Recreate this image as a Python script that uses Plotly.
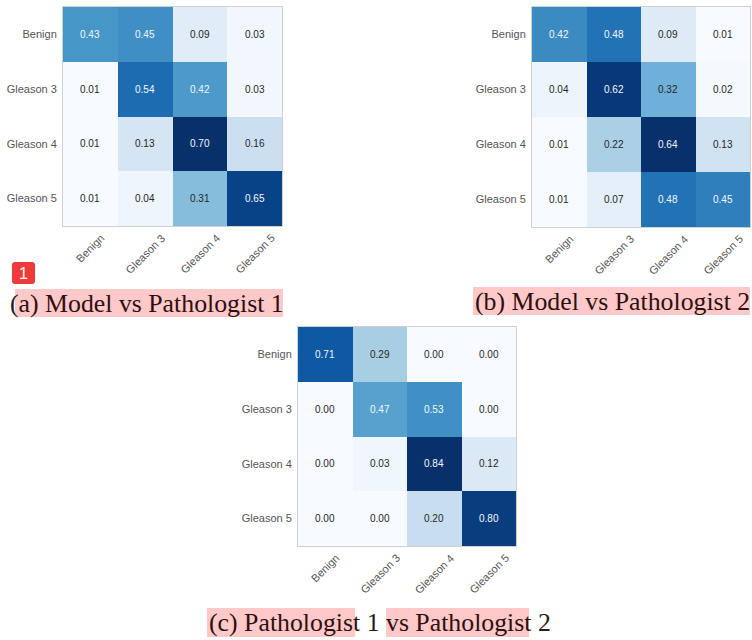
import plotly.graph_objects as go
from plotly.colors import sequential

# ---------------- data ----------------
class_labels = ["Benign", "Gleason 3", "Gleason 4", "Gleason 5"]

model_vs_p1 = [
    [0.43, 0.45, 0.09, 0.03],
    [0.01, 0.54, 0.42, 0.03],
    [0.01, 0.13, 0.70, 0.16],
    [0.01, 0.04, 0.31, 0.65],
]
model_vs_p2 = [
    [0.42, 0.48, 0.09, 0.01],
    [0.04, 0.62, 0.32, 0.02],
    [0.01, 0.22, 0.64, 0.13],
    [0.01, 0.07, 0.48, 0.45],
]
p1_vs_p2 = [
    [0.71, 0.29, 0.00, 0.00],
    [0.00, 0.47, 0.53, 0.00],
    [0.00, 0.03, 0.84, 0.12],
    [0.00, 0.00, 0.20, 0.80],
]

# ---------------- layout helpers ----------------
W, H = 752, 640
def fx(px):
    return px / W
def fy(py):
    return 1 - py / H

# plot-area boxes in pixels (left, right, top, bottom)
panels = [
    (model_vs_p1, (63, 282, 7, 226)),
    (model_vs_p2, (532, 750, 7, 227)),
    (p1_vs_p2, (298, 516, 327, 546)),
]

fig = go.Figure()
annotations = []
layout_axes = {}

for i, (z, (l, r, t, b)) in enumerate(panels):
    sfx = "" if i == 0 else str(i + 1)
    xa, ya = "x" + sfx, "y" + sfx
    fig.add_trace(go.Heatmap(
        z=z, x=class_labels, y=class_labels,
        colorscale=sequential.Blues, showscale=False,
        xaxis=xa, yaxis=ya, hoverinfo="skip",
    ))
    axis_common = dict(showgrid=False, zeroline=False, showline=True, mirror=True,
                       linecolor="#d0d0d0", linewidth=1, ticks="")
    layout_axes["xaxis" + sfx] = dict(domain=[fx(l), fx(r)], anchor=ya,
                                      showticklabels=False, **axis_common)
    layout_axes["yaxis" + sfx] = dict(domain=[fy(b), fy(t)], anchor=xa,
                                      autorange="reversed", ticklabelstandoff=3,
                                      tickfont=dict(family="Liberation Sans, Arial", size=11,
                                                    color="#555555"),
                                      **axis_common)
    zmax = max(max(row) for row in z)
    thresh = zmax / 2
    for ri, row in enumerate(z):
        for ci, v in enumerate(row):
            annotations.append(dict(
                x=class_labels[ci], y=class_labels[ri], xref=xa, yref=ya,
                text=f"{v:.2f}", showarrow=False,
                font=dict(family="Liberation Sans, Arial", size=10,
                          color="#f4f7fb" if v > thresh else "#262626"),
            ))
    for ci, lab in enumerate(class_labels):
        annotations.append(dict(
            x=lab, y=0, xref=xa, yref=ya + " domain",
            text=lab, showarrow=False, textangle=-45,
            xanchor="center", yanchor="top", yshift=-3,
            font=dict(family="Liberation Sans, Arial", size=11, color="#555555"),
        ))

# ---------------- captions ----------------
HL = "#ffc9c9"
highlights = [
    (15, 283, 289, 317),
    (473, 750, 287, 315),
    (207, 355, 608, 637),
    (386, 529, 608, 637),
]
shapes = []
for (x0, x1, y0, y1) in highlights:
    shapes.append(dict(type="rect", xref="paper", yref="paper",
                       x0=fx(x0), x1=fx(x1), y0=fy(y1), y1=fy(y0),
                       fillcolor=HL, line=dict(width=0), layer="below"))

HT = "#2e0f0f"   # text on highlight
PT = "#1e1e1e"   # plain text
def span(txt, col):
    return f"<span style='color:{col}'>{txt}</span>"

cap_font = dict(family="Liberation Serif, Times New Roman, serif", size=25.8)
captions = [
    (8, 303, span("(", PT) + span("a) Model vs Pathologist 1", HT)),
    (473, 301, span("(b) Model vs Pathologist 2", HT)),
    (207, 622, span("(c) Pathologist", HT) + span(" 1 ", PT)
               + span("vs Pathologist", HT) + span(" 2", PT)),
]
for (x, y, txt) in captions:
    annotations.append(dict(x=fx(x), y=fy(y), xref="paper", yref="paper",
                            xanchor="left", yanchor="middle", text=txt,
                            showarrow=False, font=cap_font))

# ---------------- red badge ----------------
bx0, bx1, by0, by1, rr = 12, 35, 262, 284, 3
def P(x, y):
    return f"{fx(x):.5f},{fy(y):.5f}"
badge_path = (f"M {P(bx0+rr, by0)} L {P(bx1-rr, by0)} Q {P(bx1, by0)} {P(bx1, by0+rr)} "
              f"L {P(bx1, by1-rr)} Q {P(bx1, by1)} {P(bx1-rr, by1)} "
              f"L {P(bx0+rr, by1)} Q {P(bx0, by1)} {P(bx0, by1-rr)} "
              f"L {P(bx0, by0+rr)} Q {P(bx0, by0)} {P(bx0+rr, by0)} Z")
shapes.append(dict(type="path", xref="paper", yref="paper", path=badge_path,
                   fillcolor="#f03a3a", line=dict(width=0), layer="above"))
annotations.append(dict(x=fx((bx0 + bx1) / 2), y=fy((by0 + by1) / 2), xref="paper",
                        yref="paper", text="1", showarrow=False,
                        xanchor="center", yanchor="middle",
                        font=dict(family="Liberation Sans, Arial", size=16, color="white")))

fig.update_layout(
    width=W, height=H, margin=dict(l=0, r=0, t=0, b=0),
    paper_bgcolor="white", plot_bgcolor="white",
    showlegend=False, annotations=annotations, shapes=shapes,
    **layout_axes,
)

fig.write_html("out.html", config={"displayModeBar": False, "staticPlot": True},
               post_script="document.body.style.margin='0';document.body.style.overflow='hidden';")
